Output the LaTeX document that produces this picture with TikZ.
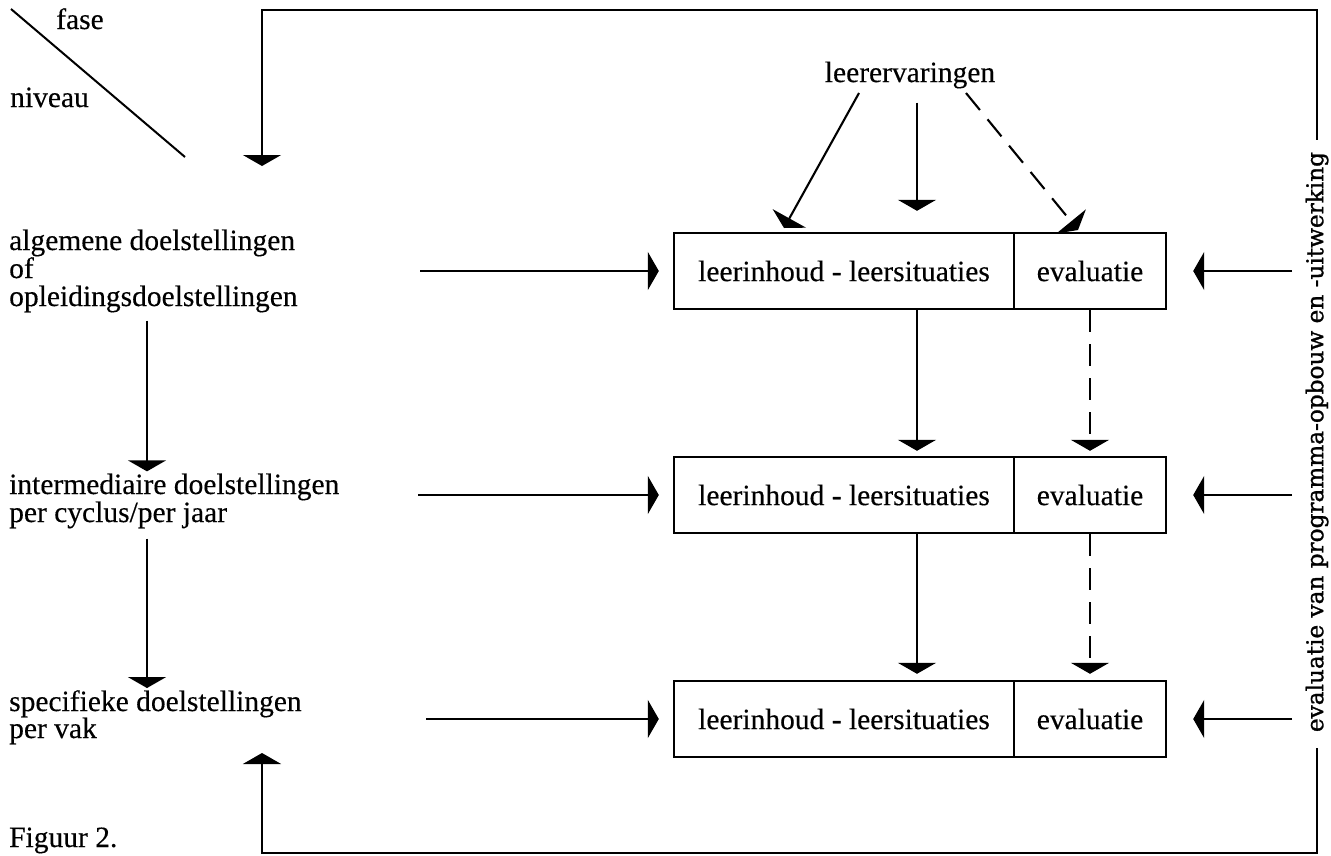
\documentclass[tikz,border=0pt]{standalone}
\usepackage{graphicx}
\usepackage{fontspec}
\setmainfont{Liberation Serif}[FakeBold=0.3]
\newfontfamily\rotfont{DejaVu Serif}[FakeBold=1.2]
\usetikzlibrary{arrows.meta}
\begin{document}
\begin{tikzpicture}[x=1pt,y=-1pt,
  lbl/.style={inner sep=0pt, font=\fontsize{29.5}{34}\selectfont},
  boxpart/.style={draw, line width=2.4pt, minimum height=76pt, inner sep=0pt, font=\fontsize{29.5}{34}\selectfont},
  arr/.style={line width=2.1pt, -{Triangle[length=11pt,width=38pt]}},
  darr/.style={arr, dash pattern=on 22pt off 12pt},
  plainline/.style={line width=2pt}]
\useasboundingbox (0,0) rectangle (1331,855);

% header
\coordinate (dg1) at (11,9);
\coordinate (dg2) at (185,157);
\draw[plainline] (dg1) -- (dg2);
\node[lbl, anchor=base] (fase) at (80,29) {fase};
\node[lbl, anchor=base west] (niveau) at (10,107) {niveau};

% level texts
\node[lbl, anchor=base west] (t1a) at (9,250) {algemene doelstellingen};
\node[lbl, anchor=base west] (t1b) at (9,278) {of};
\node[lbl, anchor=base west] (t1c) at (9,306) {opleidingsdoelstellingen};
\node[lbl, anchor=base west] (t2a) at (9,494) {intermediaire doelstellingen};
\node[lbl, anchor=base west] (t2b) at (9,522) {per cyclus/per jaar};
\node[lbl, anchor=base west] (t3a) at (9,711) {specifieke doelstellingen};
\node[lbl, anchor=base west] (t3b) at (9,738) {per vak};
\node[lbl, anchor=base west] (fig) at (9,847) {Figuur 2.};

% boxes
\foreach \r/\y in {1/271,2/495,3/719}{
  \node[boxpart, minimum width=340pt] (b\r l) at (844,\y) {leerinhoud - leersituaties};
  \node[boxpart, minimum width=152pt] (b\r r) at (1090,\y) {evaluatie};
}

% leerervaringen
\node[lbl] (le) at (910,75) {leerervaringen};
\coordinate (cx) at (917,0);
\coordinate (dx) at (1090,0);
\coordinate (l1s) at (859,93);
\coordinate (l1e) at (784,228);
\coordinate (r1s) at (966,93);
\coordinate (r1e) at (1078,230);
\draw[arr] (l1s) -- (l1e);
\draw[arr, shorten <=14pt, shorten >=21pt] (le.south -| cx) -- (b1l.north -| cx);
\draw[darr] (r1s) -- (r1e);

% between boxes
\draw[arr, shorten >=5pt] (b1l.south -| cx) -- (b2l.north -| cx);
\draw[darr, shorten >=5pt] (b1r.south -| dx) -- (b2r.north -| dx);
\draw[arr, shorten >=6pt] (b2l.south -| cx) -- (b3l.north -| cx);
\draw[darr, shorten >=6pt] (b2r.south -| dx) -- (b3r.north -| dx);

% left arrows into boxes
\coordinate (s1) at (420,271);
\coordinate (s2) at (418,495);
\coordinate (s3) at (426,719);
\draw[arr, shorten >=14pt] (s1) -- (b1l.west);
\draw[arr, shorten >=14pt] (s2) -- (b2l.west);
\draw[arr, shorten >=14pt] (s3) -- (b3l.west);

% right arrows into boxes
\coordinate (e1) at (1292,271);
\coordinate (e2) at (1292,495);
\coordinate (e3) at (1292,719);
\draw[arr, shorten >=26pt] (e1) -- (b1r.east);
\draw[arr, shorten >=26pt] (e2) -- (b2r.east);
\draw[arr, shorten >=26pt] (e3) -- (b3r.east);

% level arrows
\coordinate (vx) at (147,0);
\draw[arr, shorten <=8pt, shorten >=2pt] (t1c.south -| vx) -- (t2a.north -| vx);
\draw[arr, shorten <=10pt, shorten >=2pt] (t2b.south -| vx) -- (t3a.north -| vx);

% feedback loop
\node[inner sep=0pt, rotate=90] (fb) at (1317,442) {\resizebox{580pt}{!}{\rotfont evaluatie van programma-opbouw en -uitwerking}};
\coordinate (ftl) at (262,10);
\coordinate (ftip) at (262,166);
\coordinate (fbl) at (262,853);
\coordinate (fbtip) at (262,753);
\draw[arr, shorten <=12pt] (fb.east) |- (ftl) -- (ftip);
\draw[arr, shorten <=16pt] (fb.west) |- (fbl) -- (fbtip);
\end{tikzpicture}
\end{document}
